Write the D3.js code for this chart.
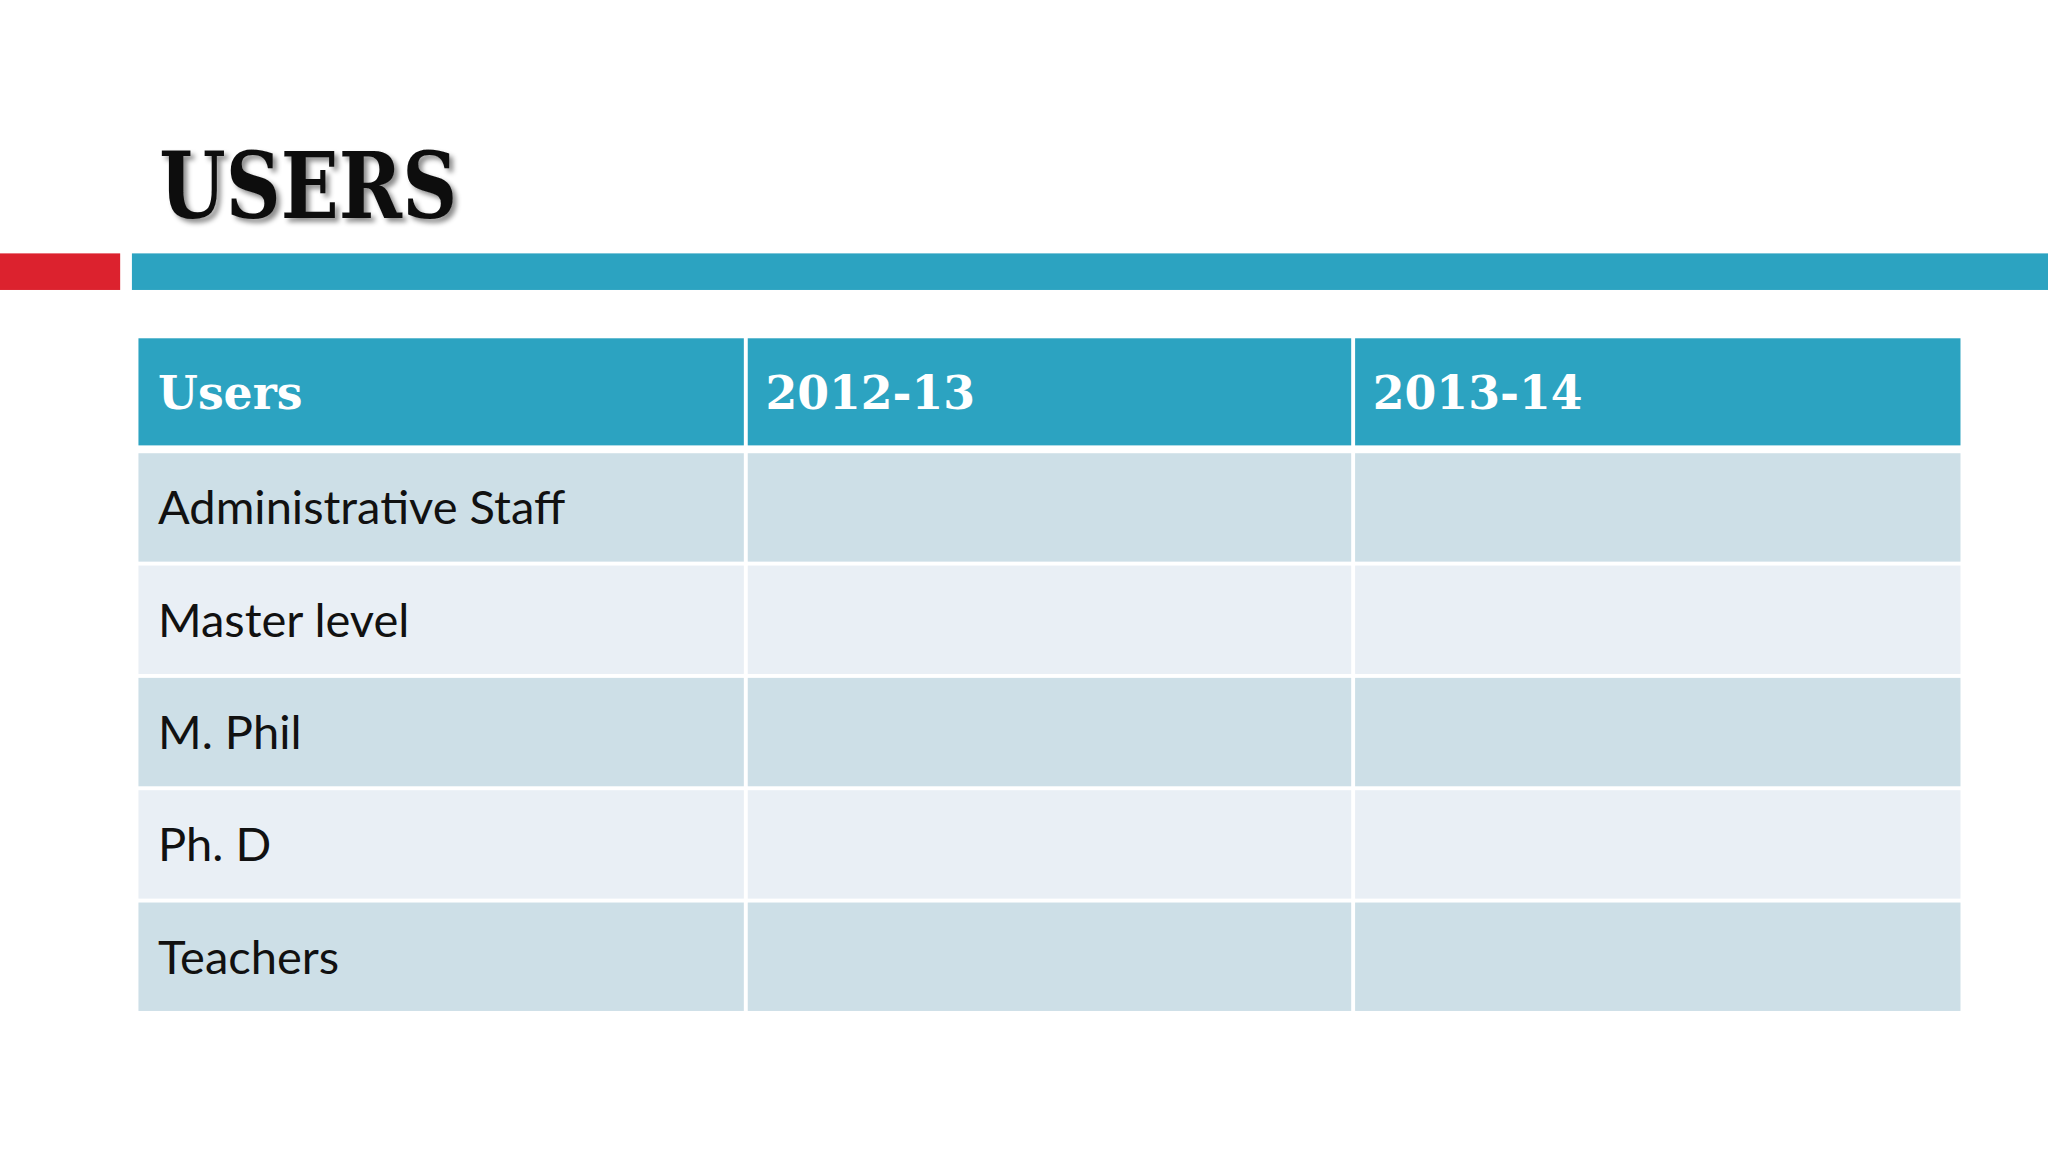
<!DOCTYPE html>
<html><head><meta charset="utf-8">
<script src="https://cdn.jsdelivr.net/npm/d3@7"></script>
<style>html,body{margin:0;padding:0;background:#fff;overflow:hidden}</style>
</head><body>
<script>
const title = "USERS";
const headers = ["Users", "2012-13", "2013-14"];
const rowLabels = ["Administrative Staff", "Master level", "M. Phil", "Ph. D", "Teachers"];
const values2012 = ["", "", "", "", ""];
const values2013 = ["", "", "", "", ""];

const svg = d3.select("body").append("svg")
  .attr("width", 2048).attr("height", 1152)
  .attr("viewBox", "0 0 1568 882");

const defs = svg.append("defs");
const f = defs.append("filter").attr("id","sh").attr("x","-10%").attr("y","-10%").attr("width","130%").attr("height","140%");
f.append("feDropShadow").attr("dx",3).attr("dy",3).attr("stdDeviation",2).attr("flood-color","#000").attr("flood-opacity",0.45);

svg.append("text").attr("x",122).attr("y",167)
  .attr("font-family","'DejaVu Serif', 'Liberation Serif', serif").attr("font-weight","bold")
  .attr("font-size",70).attr("fill","#111").attr("filter","url(#sh)")
  .attr("textLength",228).attr("lengthAdjust","spacingAndGlyphs").text(title);

svg.append("rect").attr("x",0).attr("y",194).attr("width",92).attr("height",28).attr("fill","#dc222e");
svg.append("rect").attr("x",101).attr("y",194).attr("width",1467).attr("height",28).attr("fill","#2ca3c1");

const x = d3.scaleBand().domain(headers).range([106,1501]);
const y = d3.scaleBand().domain(["__h", ...rowLabels]).range([259,775]);
const gap = 3;

const rows = [headers, ...rowLabels.map((r,i)=>[r, values2012[i], values2013[i]])];
const keys = ["__h", ...rowLabels];

rows.forEach((row, ri) => {
  const yy = y(keys[ri]);
  const h = ri===0 ? y.bandwidth()-4 : y.bandwidth()-gap;
  const yTop = ri===0 ? yy : yy+2;
  const fill = ri===0 ? "#2ca3c1" : (ri%2===1 ? "#cddfe7" : "#e9eff5");
  row.forEach((v, ci) => {
    const xx = x(headers[ci]) + (ci>0 ? 1.5 : 0);
    const w = x.bandwidth() - (ci>0 ? 1.5 : 0) - (ci<2 ? 1.5 : 0);
    svg.append("rect").attr("x",xx).attr("y",yTop).attr("width",w).attr("height",h).attr("fill",fill);
    if (v) {
      const t = svg.append("text").attr("x",x(headers[ci])+15).attr("y",yTop+h/2+13).text(v);
      if (ri===0) t.attr("font-family","'DejaVu Serif', serif").attr("font-weight","bold").attr("font-size",35).attr("fill","#fff");
      else t.attr("font-family","Lato, 'Open Sans', sans-serif").attr("font-size",36).attr("fill","#111");
    }
  });
});
</script>
</body></html>
